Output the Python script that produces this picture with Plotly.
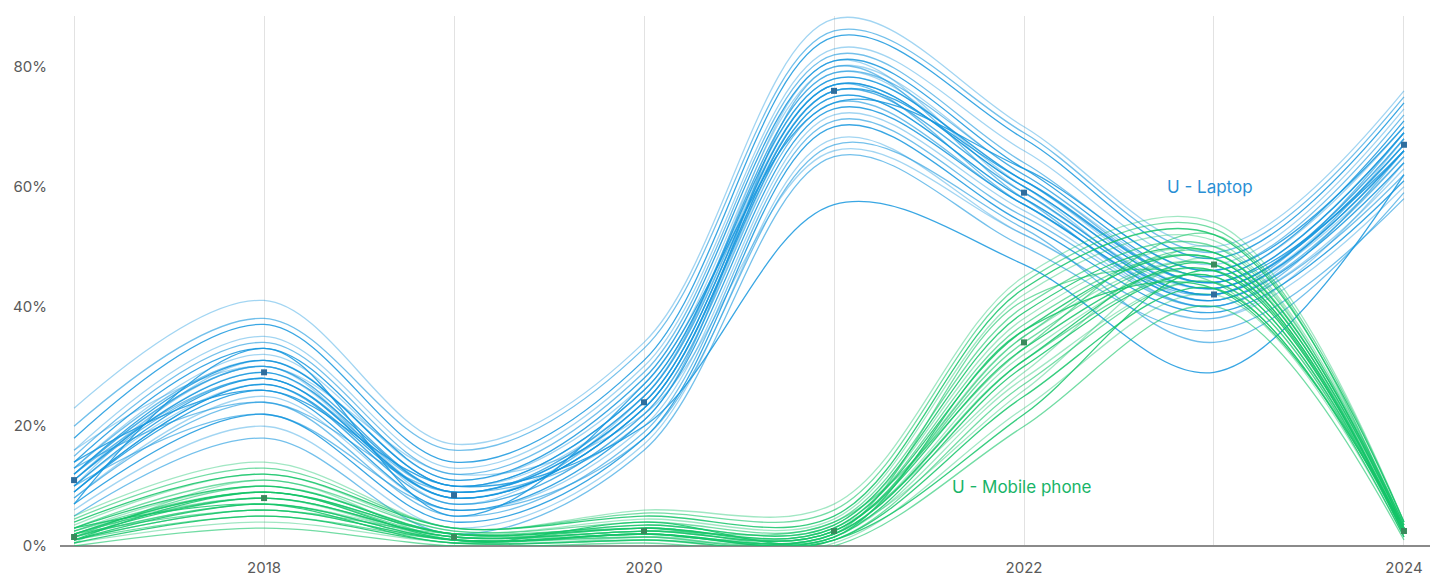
import plotly.graph_objects as go

years = [2017, 2018, 2019, 2020, 2021, 2022, 2023, 2024]
tick_text = ["", "2018", "", "2020", "", "2022", "", "2024"]
y_ticks = [0, 20, 40, 60, 80]
y_tick_text = ["0%", "20%", "40%", "60%", "80%"]

# individual respondent-group curves, % using laptop
laptop_lines = [
    [5, 18, 2, 16, 65, 50, 36, 58],
    [6, 20, 3, 17, 68, 52, 38, 60],
    [7, 22, 4, 18, 70, 54, 39, 61],
    [8, 24, 5, 19, 71, 55, 40, 62],
    [8, 25, 6, 20, 72, 56, 40, 63],
    [9, 26, 6, 21, 73, 57, 41, 64],
    [9, 27, 7, 22, 74, 57, 41, 65],
    [10, 27, 7, 22, 75, 58, 42, 65],
    [10, 28, 8, 23, 75, 58, 42, 66],
    [11, 28, 8, 23, 76, 59, 42, 66],
    [11, 29, 8, 24, 76, 59, 42, 67],
    [11, 29, 9, 24, 77, 60, 43, 67],
    [12, 30, 9, 25, 77, 60, 43, 68],
    [12, 30, 9, 25, 78, 61, 43, 68],
    [12, 31, 10, 26, 78, 61, 44, 69],
    [13, 31, 10, 26, 79, 62, 44, 69],
    [13, 32, 11, 27, 80, 62, 45, 70],
    [14, 33, 11, 28, 81, 63, 45, 71],
    [15, 34, 12, 29, 82, 64, 46, 72],
    [16, 35, 13, 30, 83, 66, 47, 73],
    [18, 37, 14, 31, 85, 68, 48, 74],
    [20, 38, 16, 33, 86, 69, 49, 75],
    [23, 41, 17, 34, 88, 70, 50, 76],
    [14, 26, 10, 20, 57, 47, 29, 62],
    [10, 22, 6, 18, 67, 53, 34, 59],
    [16, 30, 12, 22, 66, 52, 38, 64],
    [7, 33, 5, 27, 74, 63, 46, 70],
    [13, 24, 9, 21, 80, 58, 40, 66],
    [11, 30, 7, 25, 79, 60, 41, 68],
    [9, 27, 8, 23, 76, 61, 44, 66],
    [12, 28, 9, 24, 77, 57, 42, 69],
    [10, 31, 10, 25, 81, 59, 43, 67],
]

# % using mobile phone
mobile_lines = [
    [0, 3, 0, 0.5, 0, 20, 40, 1],
    [0.5, 4, 0.5, 1, 0.5, 23, 42, 1.5],
    [0.5, 5, 0.5, 1, 1, 25, 43, 1.5],
    [1, 5, 1, 1.5, 1, 27, 44, 2],
    [1, 6, 1, 1.5, 1.5, 28, 44, 2],
    [1, 6, 1, 2, 1.5, 30, 45, 2],
    [1.5, 7, 1, 2, 2, 31, 45, 2.5],
    [1.5, 7, 1.5, 2, 2, 32, 46, 2.5],
    [1.5, 8, 1.5, 2.5, 2.5, 33, 46, 2.5],
    [2, 8, 1.5, 2.5, 2.5, 34, 47, 2.5],
    [2, 8, 1.5, 3, 2.5, 35, 47, 3],
    [2, 9, 2, 3, 3, 36, 48, 3],
    [2.5, 9, 2, 3, 3, 37, 48, 3],
    [2.5, 10, 2, 3.5, 3.5, 38, 49, 3],
    [3, 10, 2, 3.5, 3.5, 39, 49, 3.5],
    [3, 11, 2.5, 4, 4, 40, 50, 3.5],
    [3.5, 12, 2.5, 4.5, 4.5, 42, 51, 3.5],
    [4, 12, 3, 5, 5, 43, 52, 4],
    [4.5, 13, 3, 5.5, 6, 44, 53, 4],
    [5, 14, 3, 6, 7, 45, 54, 4],
    [1, 9, 1, 2, 1, 22, 46, 2],
    [2, 6, 2, 3, 2, 41, 44, 3],
    [0.5, 11, 1, 1.5, 3, 29, 50, 2],
    [3, 7, 0.5, 4, 1.5, 36, 43, 3],
    [1.5, 10, 2, 2.5, 4, 33, 52, 2.5],
    [2.5, 8, 1, 1, 2, 26, 48, 1.5],
    [1, 7, 1, 2, 2, 31, 47, 2],
    [2, 9, 1.5, 3, 2.5, 35, 49, 3],
]

laptop_mean = [11, 29, 8.5, 24, 76, 59, 42, 67]
mobile_mean = [1.5, 8, 1.5, 2.5, 2.5, 34, 47, 2.5]

fig = go.Figure()

def add_bundle(lines, rgb):
    for i, vals in enumerate(lines):
        alpha = (0.6, 0.4, 0.85)[i % 3]
        fig.add_trace(go.Scatter(
            x=years, y=vals, mode="lines",
            line=dict(shape="spline", smoothing=1.0, width=1.3,
                      color=f"rgba({rgb},{alpha})"),
            hoverinfo="skip", showlegend=False,
        ))

add_bundle(laptop_lines, "22,150,222")
add_bundle(mobile_lines, "20,196,104")

fig.add_trace(go.Scatter(
    x=years, y=laptop_mean, mode="markers", name="U - Laptop",
    marker=dict(symbol="square", size=6, color="#2f6e9e"), showlegend=False,
))
fig.add_trace(go.Scatter(
    x=years, y=mobile_mean, mode="markers", name="U - Mobile phone",
    marker=dict(symbol="square", size=6, color="#3a8a5c"), showlegend=False,
))

fig.add_annotation(x=2022.98, y=60, text="U - Laptop", showarrow=False,
                   font=dict(size=17, color="#2a8fd4"))
fig.add_annotation(x=2021.99, y=9.8, text="U - Mobile phone", showarrow=False,
                   font=dict(size=17, color="#18b468"))

# page body adds an 8px offset, so margins are shifted to compensate
fig.update_layout(
    width=1440, height=575,
    margin=dict(l=52, r=18, t=8, b=37),
    paper_bgcolor="white", plot_bgcolor="white",
    font=dict(family="Inter, Liberation Sans, sans-serif", size=15, color="#5a5a5a"),
    xaxis=dict(
        range=[2016.926, 2024.137], tickvals=years, ticktext=tick_text,
        showgrid=True, gridcolor="#e2e2e2", gridwidth=1,
        zeroline=False, showline=False, automargin=False,
        ticks="outside", ticklen=8, tickcolor="rgba(0,0,0,0)",
    ),
    yaxis=dict(
        range=[0, 88.5], tickvals=y_ticks, ticktext=y_tick_text,
        showgrid=False, zeroline=True, zerolinecolor="#8a8a8a", zerolinewidth=1.5,
        ticks="outside", ticklen=9, tickcolor="rgba(0,0,0,0)", automargin=False,
    ),
)

fig.write_html("out.html")
